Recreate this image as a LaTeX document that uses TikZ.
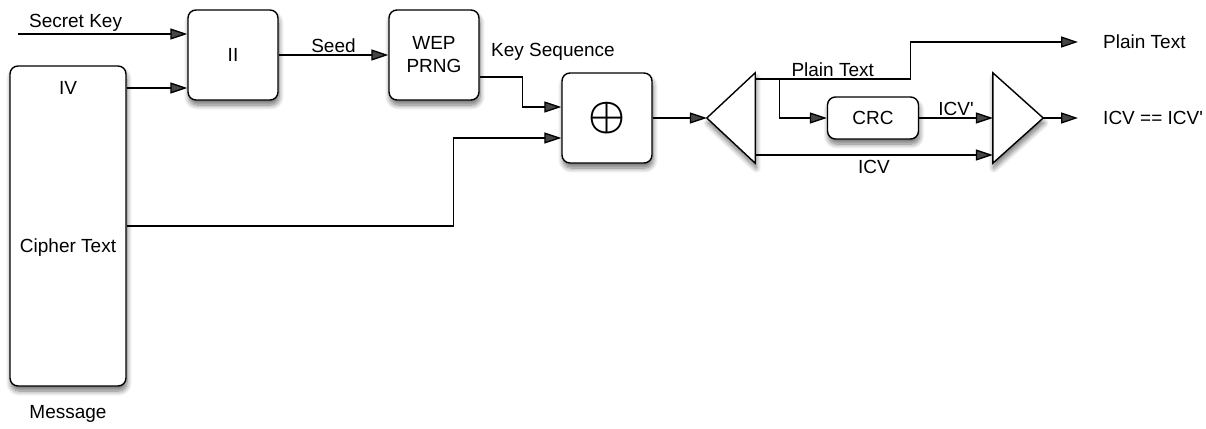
\documentclass[tikz,border=0pt]{standalone}
\usepackage{fontspec}
\setmainfont{Liberation Sans}
\usetikzlibrary{arrows.meta, positioning, shadows.blur}

\begin{document}
\begin{tikzpicture}[x=1pt, y=-1pt,
  font=\fontsize{19}{23}\selectfont,
  arr/.style={line width=1.3pt, -{Triangle[length=17pt, width=11pt]}},
  box/.style={draw, line width=1.4pt, rounded corners=8pt, fill=white,
    blur shadow={shadow xshift=1pt, shadow yshift=-5pt, shadow blur steps=8, shadow blur radius=5pt, shadow opacity=55}},
  tri/.style={draw, line width=1.4pt, fill=white, line join=miter,
    blur shadow={shadow xshift=1pt, shadow yshift=-5pt, shadow blur steps=8, shadow blur radius=5pt, shadow opacity=55}},
  lbl/.style={inner sep=2pt}]
\useasboundingbox (0,0) rectangle (1206,428);

% mensaje: IV + texto cifrado
\node[box, minimum width=116pt, minimum height=320pt] (msg) at (68,226) {};
\node[lbl] (iv) at (68,88) {IV};
\node[lbl] (ctext) at (68,248) {Cipher Text};
\node[lbl] (message) at (68,414) {Message};

% concatenacion y generador
\node[box, minimum width=90pt, minimum height=90pt] (concat) at (233,55) {II};
\node[box, minimum width=90pt, minimum height=90pt, align=center] (prng) at (434,55) {WEP\\PRNG};
\node[box, minimum width=90pt, minimum height=90pt] (xor) at (607,118) {\scalebox{2.4}{\boldmath$\oplus$}};

% separador y comparador
\node[minimum width=48pt, minimum height=90pt, inner sep=0pt] (demux) at (731,118) {};
\draw[tri] (demux.west) -- (demux.north east) -- (demux.south east) -- cycle;
\node[box, minimum width=91pt, minimum height=42pt] (crc) at (873,118) {CRC};
\node[minimum width=50pt, minimum height=90pt, inner sep=0pt] (cmp) at (1018,118) {};
\draw[tri] (cmp.north west) -- (cmp.east) -- (cmp.south west) -- cycle;

% entradas
\coordinate (skey) at (18,34);
\draw[arr] (skey) -- (skey -| concat.west) node[lbl, pos=0.34, above] {Secret Key};
\draw[arr] (msg.east |- iv) -- (iv -| concat.west);
\draw[arr] (concat.east) -- (prng.west) node[lbl, midway, above] {Seed};
\draw[arr] ([yshift=-22pt]prng.east) -- ++(43,0) |- ([yshift=11pt]xor.west);
\node[lbl] (keyseq) at (553,52) {Key Sequence};
\draw[arr] (msg.east) -- ++(327,0) |- ([yshift=-20pt]xor.west);
\draw[arr] (xor.east) -- (demux.west);

% salidas
\coordinate (ptend) at (1078,42);
\node[lbl, right=23pt of ptend] (ptout) {Plain Text};
\draw[arr] ([yshift=39pt]demux.east) -- ++(155,0) node[lbl, midway, above] {Plain Text} |- (ptend);
\draw[arr] ([yshift=39pt, xshift=24pt]demux.east) |- (crc.west);
\draw[arr] (crc.east) -- (crc.east -| cmp.west) node[lbl, midway, above] {ICV\textquotesingle};
\draw[arr] ([yshift=-37pt]demux.east) -- ([yshift=-37pt]cmp.west) node[lbl, midway, below=3pt] {ICV};
\coordinate (eqend) at (1078,118);
\node[lbl, right=23pt of eqend] (eqout) {ICV == ICV\textquotesingle};
\draw[arr] (cmp.east) -- (eqend);
\end{tikzpicture}
\end{document}
